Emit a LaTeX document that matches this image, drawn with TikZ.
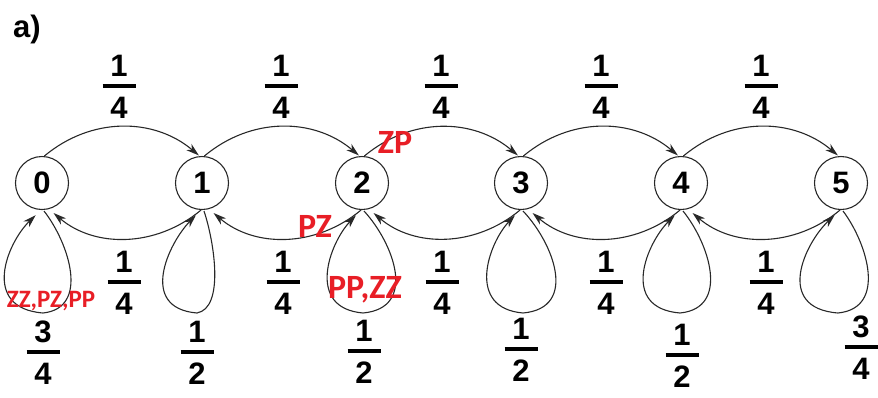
\documentclass[tikz,border=0pt]{standalone}
\usepackage{fontspec}
\setmainfont{Liberation Sans}
\newfontfamily\calfont{Carlito}
\usetikzlibrary{arrows.meta,calc}
\definecolor{lblred}{RGB}{232,30,38}
\definecolor{ink}{RGB}{40,40,40}
\tikzset{
 state/.style={circle,draw=ink,line width=1.1pt,minimum size=53pt,inner sep=0pt,font=\fontsize{31}{33}\selectfont\bfseries},
 fnum/.style={inner sep=0pt,font=\fontsize{31}{33}\selectfont\bfseries},
 fbar/.style={line width=3.5pt,black},
 arr/.style={draw=ink,line width=1.1pt,-{Stealth[length=13pt,width=8pt,inset=4pt]}},
 redlbl/.style={text=lblred,inner sep=0pt,font=\calfont\bfseries\fontsize{34}{36}\selectfont},
 redsmall/.style={text=lblred,inner sep=0pt,font=\calfont\bfseries\fontsize{25}{27}\selectfont},
}
% name, x, y of bar, numerator, denominator
\newcommand\fracnode[5]{%
 \node[fnum] (#1n) at (#2,#3-20) {#4};
 \node[fnum] (#1d) at (#2,#3+22) {#5};
 \draw[fbar] (#2-16.5,#3) -- (#2+16.5,#3);
}
% node, left extent, right extent, bottom dx
\newcommand\mkloop[4]{%
 \draw[arr,shorten >=6pt] ($(#1)+(2,28)$) .. controls ($(#1)+(0.9*#3,60)$) and ($(#1)+(1.6*#3,125)$) .. ($(#1)+(#4,130)$)
   .. controls ($(#1)+(#4-1.6*#2,125)$) and ($(#1)+(-0.9*#2,60)$) .. ($(#1)+(-2,28)$);
}
\begin{document}
\begin{tikzpicture}[x=1pt,y=-1pt]
\useasboundingbox (0,0) rectangle (878,397);
\node[fnum,font=\fontsize{31}{33}\selectfont\bfseries] (title) at (27,29) {a)};
\foreach \i/\x in {0/42,1/202,2/362,3/521,4/681,5/841}
  \node[state] (n\i) at (\x,183) {\i};
% upper arcs
\foreach \i/\j in {0/1,1/2,2/3,3/4,4/5}
  \draw[arr,shorten >=1pt] (n\i.85) to[bend left=40] (n\j.95);
% lower arcs
\foreach \i/\j in {0/1,1/2,2/3,3/4,4/5}
  \draw[arr,shorten >=6pt] (n\j.268) to[bend left=40] (n\i.285);
% self loops
\mkloop{n0}{39}{30}{1}
\mkloop{n1}{37}{14}{-5}
\mkloop{n2}{36}{35}{1}
\mkloop{n3}{36}{36}{2}
\mkloop{n4}{38}{31}{-1}
\mkloop{n5}{40}{29}{-3}
% upper labels
\fracnode{ta}{119}{86}{1}{4}
\fracnode{tb}{281}{86}{1}{4}
\fracnode{tc}{441}{86}{1}{4}
\fracnode{td}{601}{86}{1}{4}
\fracnode{te}{761}{86}{1}{4}
% lower labels
\fracnode{la}{124}{282}{1}{4}
\fracnode{lb}{283}{282}{1}{4}
\fracnode{lc}{442}{282}{1}{4}
\fracnode{ld}{606}{282}{1}{4}
\fracnode{le}{766}{282}{1}{4}
% loop labels
\fracnode{sa}{43}{352}{3}{4}
\fracnode{sb}{197}{352}{1}{2}
\fracnode{sc}{364}{351}{1}{2}
\fracnode{sd}{521}{349}{1}{2}
\fracnode{se}{682}{355}{1}{2}
\fracnode{sf}{861}{347}{3}{4}
% red labels
\node[redlbl] (zp) at (395,142) {ZP};
\node[redlbl] (pz) at (315,226) {PZ};
\node[redlbl] (ppzz) at (365,290) {PP,ZZ};
\node[redsmall] (zzpzpp) at (51,301) {ZZ,PZ,PP};
\end{tikzpicture}
\end{document}
